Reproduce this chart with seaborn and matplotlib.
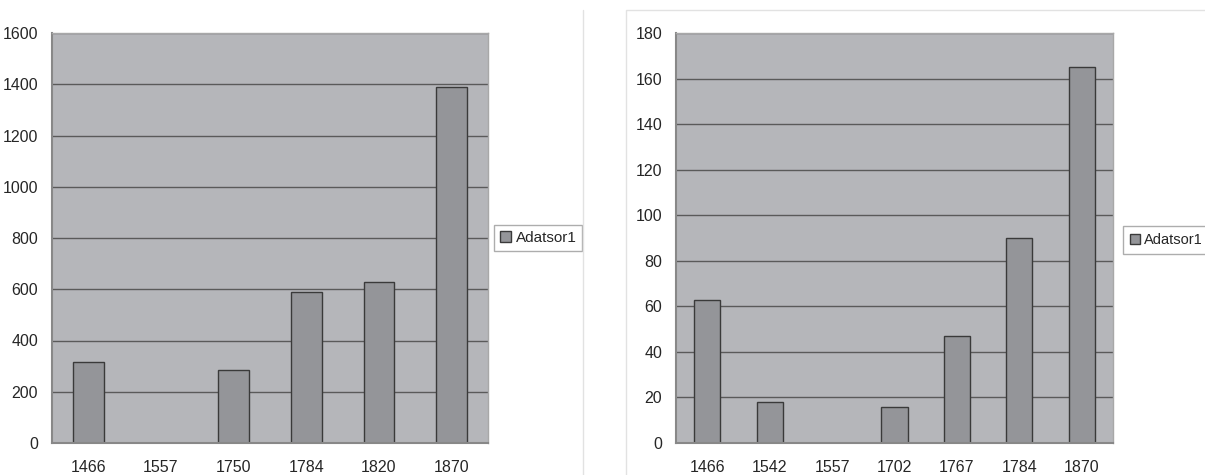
import matplotlib.pyplot as plt
import seaborn as sns
import pandas as pd
import numpy as np
from matplotlib.patches import Rectangle
from matplotlib.lines import Line2D

# Adatok
years_left = ['1466', '1557', '1750', '1784', '1820', '1870']
values_left = [315, 0, 285, 590, 630, 1390]

years_right = ['1466', '1542', '1557', '1702', '1767', '1784', '1870']
values_right = [63, 18, 0, 16, 47, 90, 165]

series_name = 'Adatsor1'

sns.set_style("white")
plt.rcParams['font.family'] = ['Liberation Sans', 'DejaVu Sans']

BG = '#b5b6ba'
BAR = '#949599'
GRID = '#5a5a5a'


def excel_bars(ax, years, values, ymax, ystep):
    df = pd.DataFrame({'ev': years, 'ertek': values})
    sns.barplot(data=df, x='ev', y='ertek', ax=ax, color=BAR, width=0.42,
                edgecolor='#3a3a3a', linewidth=1.0, saturation=1, label=series_name)
    ax.set_facecolor(BG)
    ax.set_ylim(0, ymax)
    ax.set_xlim(-0.5, len(years) - 0.5)
    ax.set_yticks(np.arange(0, ymax + 1, ystep))
    ax.yaxis.grid(True, color=GRID, linewidth=1.0)
    ax.set_axisbelow(True)
    ax.set_xlabel('')
    ax.set_ylabel('')
    # kategóriahatárokon lévő osztásjelek
    ax.set_xticks(np.arange(-0.5, len(years) + 0.5, 1), minor=True)
    ax.tick_params(axis='x', which='major', length=0, pad=12, labelsize=11.5)
    ax.tick_params(axis='x', which='minor', length=6, color='#777777', direction='out')
    ax.tick_params(axis='y', length=6, color='#777777', direction='out', labelsize=11.5, pad=4)
    for side in ['left', 'bottom']:
        ax.spines[side].set_color('#888888')
        ax.spines[side].set_linewidth(1.5)
    for side in ['top', 'right']:
        ax.spines[side].set_color('#a8a8a8')
        ax.spines[side].set_linewidth(1.0)


fig = plt.figure(figsize=(12.05, 4.75), dpi=100)
W, H = 1205, 475

ax1 = fig.add_axes([52 / W, (H - 443) / H, 436 / W, 410 / H])
excel_bars(ax1, years_left, values_left, 1600, 200)
ax1.legend(loc='center left', bbox_to_anchor=(1.014, 0.5), frameon=True, fontsize=11,
           handlelength=0.7, handleheight=0.7, handletextpad=0.3, borderpad=0.4,
           borderaxespad=0, fancybox=False, edgecolor='#999999')

ax2 = fig.add_axes([676 / W, (H - 443) / H, 437 / W, 410 / H])
excel_bars(ax2, years_right, values_right, 180, 20)
ax2.legend(loc='center left', bbox_to_anchor=(1.024, 0.495), frameon=True, fontsize=10.5,
           handlelength=0.7, handleheight=0.7, handletextpad=0.25, borderpad=0.45,
           borderaxespad=0, fancybox=False, edgecolor='#999999')

# diagramkeretek
fig.add_artist(Line2D([583 / W, 583 / W], [0, (H - 10) / H], color='#e2e2e2', linewidth=1.0))
fig.add_artist(Rectangle((626 / W, -0.01), 1.0, (H - 10) / H + 0.01, fill=False,
                         edgecolor='#e2e2e2', linewidth=1.0))

fig.savefig('out.png', dpi=100, facecolor='white')
plt.close()
